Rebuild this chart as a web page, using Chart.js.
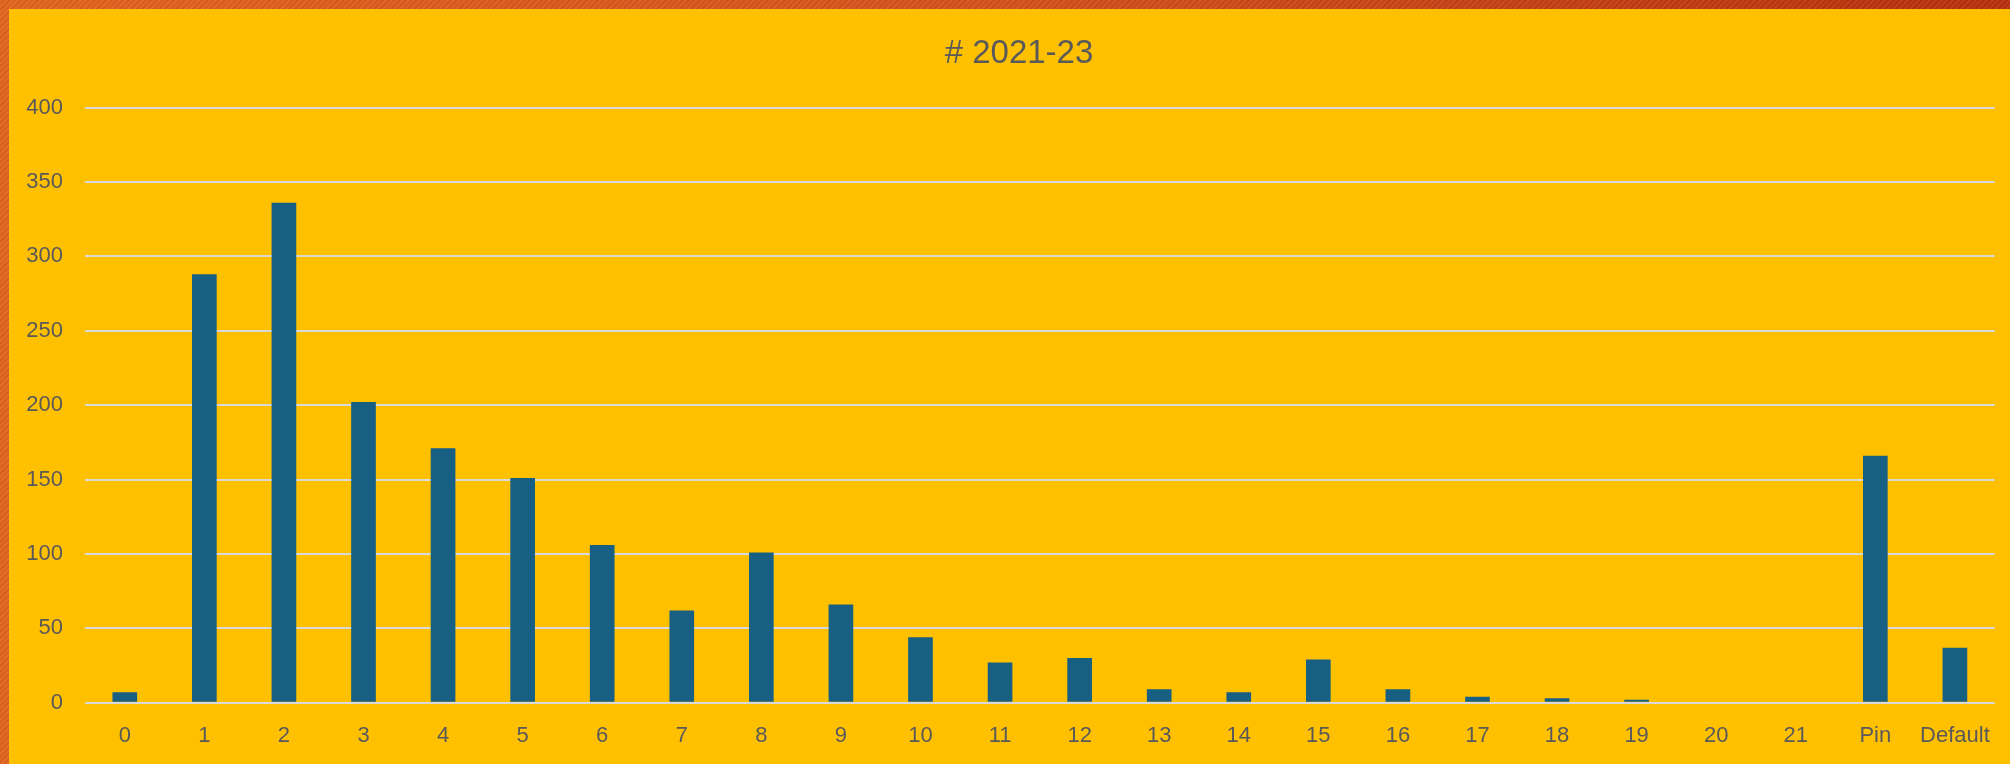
<!DOCTYPE html>
<html>
<head>
<meta charset="utf-8">
<script src="https://cdn.jsdelivr.net/npm/chart.js@4/dist/chart.umd.min.js"></script>
<style>
  html, body { margin: 0; padding: 0; }
  body {
    width: 2010px; height: 764px; position: relative; overflow: hidden;
    background:
      repeating-linear-gradient(135deg, rgba(255,255,255,0.06) 0px, rgba(255,255,255,0.06) 2px, rgba(0,0,0,0.04) 2px, rgba(0,0,0,0.04) 4px),
      linear-gradient(90deg, #E2631D 0%, #D4501A 50%, #B72E0C 100%);
  }
  #inner { position: absolute; left: 9px; top: 9px; right: 0; bottom: 0; background: #FFC000; }
  #c { position: absolute; left: 0; top: 0; }
</style>
</head>
<body>
<div id="inner"></div>
<canvas id="c" width="2010" height="764"></canvas>
<script>
const titleText = '# 2021-23';
const categories = ['0','1','2','3','4','5','6','7','8','9','10','11','12','13','14','15','16','17','18','19','20','21','Pin','Default'];
const counts = [7, 288, 336, 202, 171, 151, 106, 62, 101, 66, 44, 27, 30, 9, 7, 29, 9, 4, 3, 2, 0, 0, 166, 37];
const yTicks = [0, 50, 100, 150, 200, 250, 300, 350, 400];

const textColor = '#595959';
const fontFamily = '"Liberation Sans", Arial, sans-serif';

const titleShift = {
  id: 'titleShift',
  afterLayout(chart) {
    if (chart.titleBlock) {
      chart.titleBlock.left = 40;
    }
  }
};

new Chart(document.getElementById('c'), {
  type: 'bar',
  data: {
    labels: categories,
    datasets: [{
      data: counts,
      backgroundColor: '#175F83',
      borderWidth: 0,
      categoryPercentage: 1,
      barPercentage: 0.31
    }]
  },
  plugins: [titleShift],
  options: {
    responsive: false,
    animation: false,
    devicePixelRatio: 1,
    layout: { padding: { left: 20, right: 12, top: 0, bottom: 0 } },
    plugins: {
      legend: { display: false },
      tooltip: { enabled: false },
      title: {
        display: true,
        text: titleText,
        color: textColor,
        font: { family: fontFamily, size: 33, weight: 'normal', lineHeight: 1.2 },
        padding: { top: 34.5, bottom: 33.4 }
      }
    },
    scales: {
      x: {
        grid: { display: false, drawTicks: false },
        border: { display: false },
        ticks: {
          color: textColor,
          font: { family: fontFamily, size: 22 },
          padding: 20,
          maxRotation: 0,
          autoSkip: false
        },
        afterFit: (s) => { s.height = 61.3; }
      },
      y: {
        min: 0,
        max: 400,
        afterBuildTicks: (s) => { s.ticks = yTicks.map(v => ({ value: v })); },
        grid: { color: '#D9D9D9', lineWidth: 2, drawTicks: false },
        border: { display: false },
        ticks: {
          color: textColor,
          font: { family: fontFamily, size: 22 },
          padding: 22
        },
        afterFit: (s) => { s.width = 65; }
      }
    }
  }
});
</script>
</body>
</html>
